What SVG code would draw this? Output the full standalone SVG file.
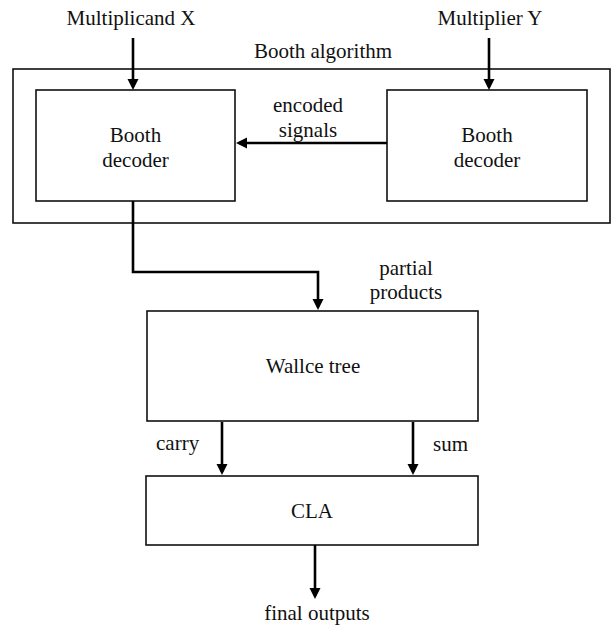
<svg xmlns="http://www.w3.org/2000/svg" width="613" height="625" viewBox="0 0 613 625">
<style>
  .box { fill: #fff; stroke: #111; stroke-width: 1.6; }
  .frame { fill: none; stroke: #111; stroke-width: 1.6; }
  .wire { fill: none; stroke: #000; stroke-width: 2.6; }
  text { font-family: "Liberation Serif", "Times New Roman", Times, "DejaVu Serif", "Noto Serif", serif; font-size: 21px; fill: #111; }
  .c { text-anchor: middle; }
</style>
<defs>
  <marker id="ah" markerUnits="userSpaceOnUse" markerWidth="14" markerHeight="12" viewBox="0 0 12 12" refX="8" refY="6" orient="auto">
    <path d="M0,0.5 L11,6 L0,11.5 Z" fill="#000"/>
  </marker>
</defs>
<rect width="613" height="625" fill="#fff"/>

<g id="booth-algorithm">
  <rect class="frame" x="13" y="69" width="597" height="154"/>
  <text class="c" x="323" y="58" font-family="Liberation Serif, serif">Booth algorithm</text>
</g>

<g id="booth-decoder-left">
  <rect class="box" x="36" y="90" width="199" height="111"/>
  <text class="c" x="135.5" y="142">Booth</text>
  <text class="c" x="135.5" y="167">decoder</text>
</g>

<g id="booth-decoder-right">
  <rect class="box" x="387" y="90" width="200" height="111"/>
  <text class="c" x="487" y="142">Booth</text>
  <text class="c" x="487" y="167">decoder</text>
</g>

<g id="wallace-tree">
  <rect class="box" x="147" y="311" width="331" height="110"/>
  <text class="c" x="313" y="373">Wallce tree</text>
</g>

<g id="cla">
  <rect class="box" x="146" y="476" width="332" height="69"/>
  <text class="c" x="312" y="518">CLA</text>
</g>

<g id="labels">
  <text class="c" x="131" y="25">Multiplicand X</text>
  <text class="c" x="490" y="25">Multiplier Y</text>
  <text class="c" x="308" y="112">encoded</text>
  <text class="c" x="308" y="137">signals</text>
  <text class="c" x="406" y="275">partial</text>
  <text class="c" x="406" y="299">products</text>
  <text x="156" y="450">carry</text>
  <text x="433" y="451">sum</text>
  <text class="c" x="317" y="620">final outputs</text>
</g>

<g id="connectors">
  <path class="wire" d="M133,38 V87" marker-end="url(#ah)"/>
  <path class="wire" d="M489,38 V87" marker-end="url(#ah)"/>
  <path class="wire" d="M387,143 H239" marker-end="url(#ah)"/>
  <path class="wire" d="M133,201 V272 H318 V307" marker-end="url(#ah)"/>
  <path class="wire" d="M222,422 V472" marker-end="url(#ah)"/>
  <path class="wire" d="M413,422 V472" marker-end="url(#ah)"/>
  <path class="wire" d="M315,545 V596" marker-end="url(#ah)"/>
</g>
</svg>
